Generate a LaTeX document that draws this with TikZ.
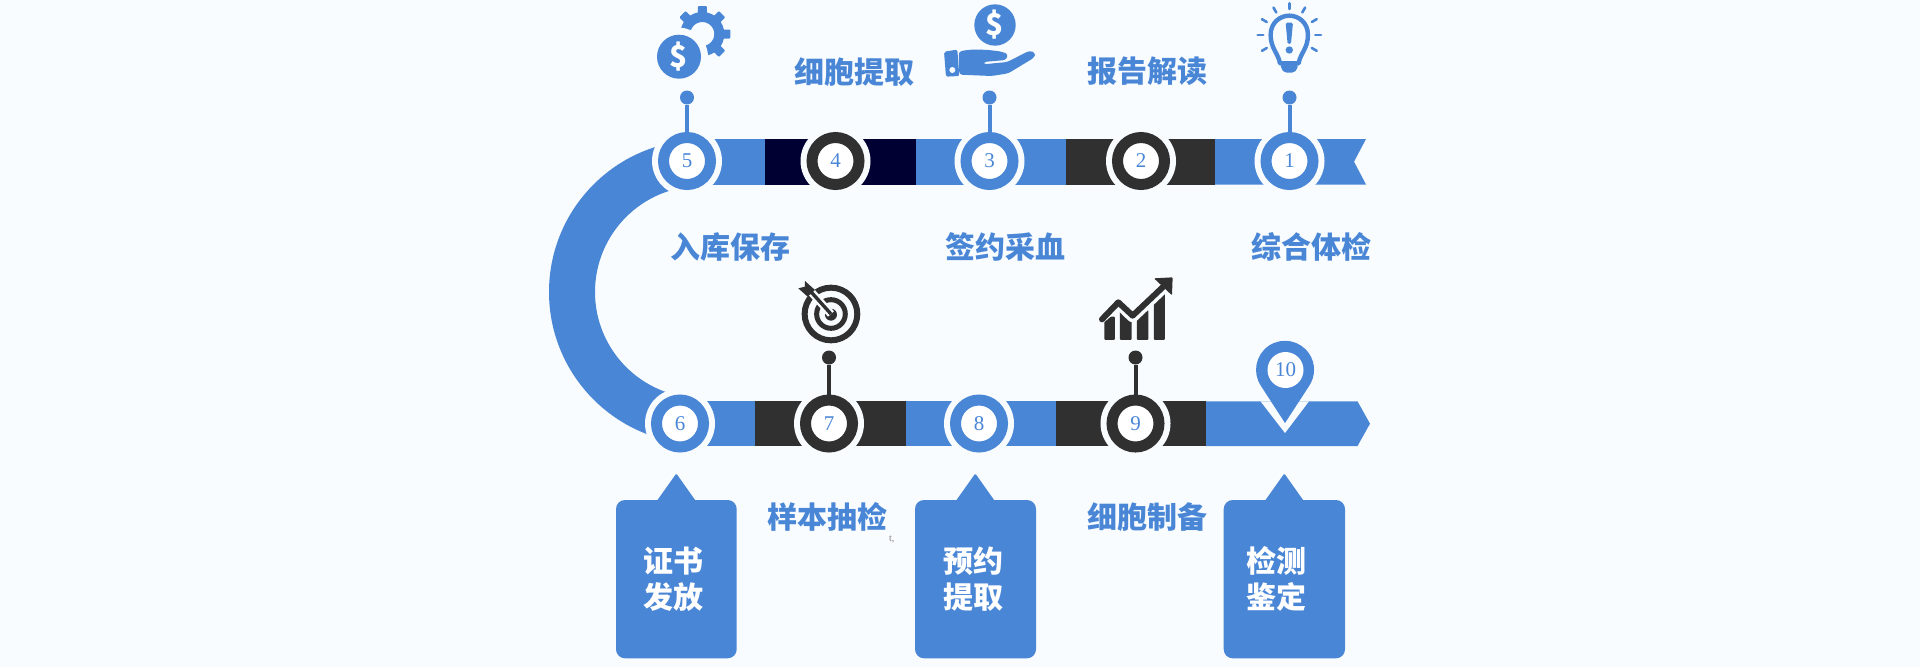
\documentclass[tikz,border=0pt]{standalone}
\usepackage{fontspec}
\setmainfont{Liberation Serif}
\newfontfamily\cjk{Noto Sans CJK SC}
\usepackage{tikz}
\usetikzlibrary{positioning}
\definecolor{pagebg}{HTML}{F8FCFF}
\definecolor{bandblue}{HTML}{4A86D6}
\definecolor{banddark}{HTML}{303030}
\definecolor{bandnavy}{HTML}{000033}
\tikzset{
  ringbg/.style={circle,fill=pagebg,inner sep=0,minimum size=70pt},
  stepnum/.style={circle,fill=white,draw=#1,line width=11pt,inner sep=0,minimum size=47pt,
    text=bandblue,font=\fontsize{21}{21}\selectfont},
  dot/.style={circle,fill=#1,inner sep=0,minimum size=14pt},
  steplabel/.style={text=bandblue,font=\cjk\bfseries\fontsize{30}{36}\selectfont,inner sep=0},
  boxlabel/.style={text=white,align=center,font=\cjk\bfseries\fontsize{30}{36}\selectfont,inner sep=0},
  dollar/.style={text=#1,font=\cjk\bfseries\fontsize{30}{30}\selectfont,inner sep=0}
}
\begin{document}
\begin{tikzpicture}[x=1pt,y=-1pt]
  \useasboundingbox (0,0) rectangle (1920,667);
  \fill[pagebg] (0,0) rectangle (1920,667);
  % curved band
  \fill[bandblue] (701,140) arc[start angle=-90,end angle=-270,radius=152]
    -- (701,398) arc[start angle=-270,end angle=-90,radius=106] -- cycle;
  % top band
  \foreach \xa/\xb/\col in {687/765/bandblue,765/916/bandnavy,916/1066/bandblue,1066/1215/banddark}
    \fill[\col] (\xa,139) rectangle (\xb,184.5);
  \fill[bandblue] (1215,139) -- (1366,139) -- (1354,161.7) -- (1366,184.5) -- (1215,184.5) -- cycle;
  % bottom band
  \foreach \xa/\xb/\col in {680/755/bandblue,755/906/banddark,906/1056/bandblue,1056/1206/banddark}
    \fill[\col] (\xa,401.3) rectangle (\xb,446);
  \fill[bandblue] (1206,401.3) -- (1357.5,401.3) -- (1370,423.7) -- (1357.5,446) -- (1206,446) -- cycle;
  % steps
  \foreach \n/\xc/\yc/\col in {1/1289.5/161/bandblue,2/1141/161/banddark,3/989.5/161/bandblue,
    4/835.5/161/banddark,5/687/161/bandblue,6/680/423.5/bandblue,7/829/423.5/banddark,
    8/979/423.5/bandblue,9/1135.5/423.5/banddark}{
    \node[ringbg] at (\xc,\yc) {};
    \node[stepnum=\col] (step\n) at (\xc,\yc) {\n};
  }
  % stems
  \foreach \n/\gap/\col in {1/27.3/bandblue,3/27.3/bandblue,5/27.3/bandblue,7/29.8/banddark,9/29.8/banddark}{
    \node[dot=\col,above=\gap pt of step\n] (top\n) {};
    \draw[\col,line width=4pt] (top\n) -- (step\n);
  }
  % pin
  \fill[pagebg] (1260.5,401.3) -- (1285,433) -- (1309,401.3) -- cycle;
  \fill[bandblue] (1285,423) -- (1261,386) arc[start angle=146,end angle=394,radius=29] -- cycle;
  \node[circle,fill=white,inner sep=0,minimum size=36pt,text=bandblue,
    font=\fontsize{21}{21}\selectfont] (step10) at (1285.5,370) {10};
  % labels
  \node[steplabel] (lab4) at (854.7,71.7) {细胞提取};
  \node[steplabel] (lab2) at (1147,71.7) {报告解读};
  \node[steplabel] (lab5) at (730.4,247) {入库保存};
  \node[steplabel] (lab3) at (1005.5,247) {签约采血};
  \node[steplabel] (lab1) at (1311.4,247) {综合体检};
  \node[steplabel] (lab7) at (827.8,516.7) {样本抽检};
  \node[steplabel] (lab9) at (1147.8,516.7) {细胞制备};
  \node[text=gray,font=\fontsize{10}{10}\selectfont,inner sep=0] (mark) at (891.7,539) {t,};
  % callouts
  \foreach \n/\xa/\xb/\xp/\xt/\first/\second in {6/616/736.7/676.3/673.7/证书/发放,
    8/915/1036/975.3/973.7/预约/提取,10/1223.7/1345/1284.3/1276/检测/鉴定}{
    \fill[bandblue,rounded corners=9pt] (\xa,500) rectangle (\xb,658.3);
    \fill[bandblue,rounded corners=1pt] (\xp-19.5,501) -- (\xp,473.5) -- (\xp+19.5,501) -- cycle;
    \node[boxlabel] (box\n) at (\xt,579) {\first\\\second};
  }
  % icon above step 5
  \begin{scope}[shift={(702.3,34)}]
    \foreach \a in {0,45,...,315}
      \fill[bandblue,rotate=\a,rounded corners=1pt] (-4.5,-28) rectangle (4.5,-15);
    \draw[bandblue,line width=10pt] (0,0) circle[radius=17];
  \end{scope}
  \fill[pagebg] (679,56.7) circle[radius=29];
  \node[circle,fill=bandblue,inner sep=0,minimum size=44pt,dollar=white] (coin5) at (679,56.7) {\$};
  % icon above step 3
  \node[circle,fill=bandblue,inner sep=0,minimum size=41.4pt,dollar=white] (coin3) at (995,25) {\$};
  \begin{scope}[shift={(900,0)},x=0.3333pt,y=-0.3333pt]
    \fill[bandblue,rounded corners=2pt] (132,155) -- (172,149) -- (178,228) -- (138,230) -- cycle;
    \fill[bandblue,rounded corners=3pt] (176,155) .. controls (220,145) and (270,150) .. (305,155)
      -- (325,163) -- (318,180) -- (250,186) -- (250,193) -- (322,186) -- (388,152) -- (406,158)
      -- (404,172) -- (325,220) -- (275,228) -- (178,224) -- cycle;
    \fill[pagebg] (157,210) circle[radius=9];
  \end{scope}
  % icon above step 1
  \begin{scope}[shift={(900,0)},x=0.3333pt,y=-0.3333pt]
    \draw[bandblue,line width=4.4pt,line join=round] (1140,190)
      .. controls (1135,160) and (1112,145) .. (1112,105)
      .. controls (1112,68) and (1140,47) .. (1168,47)
      .. controls (1196,47) and (1224,68) .. (1224,105)
      .. controls (1224,145) and (1201,160) .. (1196,190) -- cycle;
    \fill[bandblue,rounded corners=2pt] (1142,195) -- (1194,195) -- (1192,207) -- (1182,218)
      -- (1154,218) -- (1144,207) -- cycle;
    \fill[bandblue,rounded corners=1.5pt] (1157,68) -- (1179,68) -- (1173,132) -- (1163,132) -- cycle;
    \fill[bandblue] (1168,150) circle[radius=11];
    \foreach \a in {-90,-60,-30,0,30,-120,-150,180,150}
      \draw[bandblue,line width=2.6pt,line cap=round] (1168,105) ++(\a:78) -- ++(\a:17);
  \end{scope}
  % icon above step 7
  \begin{scope}[shift={(530,260)},x=0.3333pt,y=-0.3333pt]
    \draw[banddark,line width=6pt] (903,162) circle[radius=79];
    \draw[banddark,line width=5pt] (903,162) circle[radius=43];
    \fill[banddark] (903,164) circle[radius=18];
    \draw[pagebg,line width=8pt] (903,162) -- (835,86);
    \draw[banddark,line width=3.4pt] (903,162) -- (840,92);
    \fill[banddark] (805,85) -- (825,80) -- (825,63) -- (855,90) -- (833,110) -- cycle;
  \end{scope}
  % icon above step 9
  \begin{scope}[shift={(950,260)},x=0.3333pt,y=-0.3333pt]
    \foreach \xa/\xb/\yt in {463/495/170,510/545/150,561/595/150,612/645/95}
      \fill[banddark,rounded corners=1pt] (\xa,\yt) rectangle (\xb,240);
    \draw[pagebg,line width=13pt,line join=round] (440,180) -- (505,125) -- (548,167) -- (640,80);
    \draw[banddark,line width=6pt,line cap=round,line join=round] (456,178) -- (505,127) -- (548,167) -- (640,80);
    \fill[banddark,rounded corners=1pt] (612,55) -- (668,52) -- (666,106) -- cycle;
  \end{scope}
\end{tikzpicture}
\end{document}
